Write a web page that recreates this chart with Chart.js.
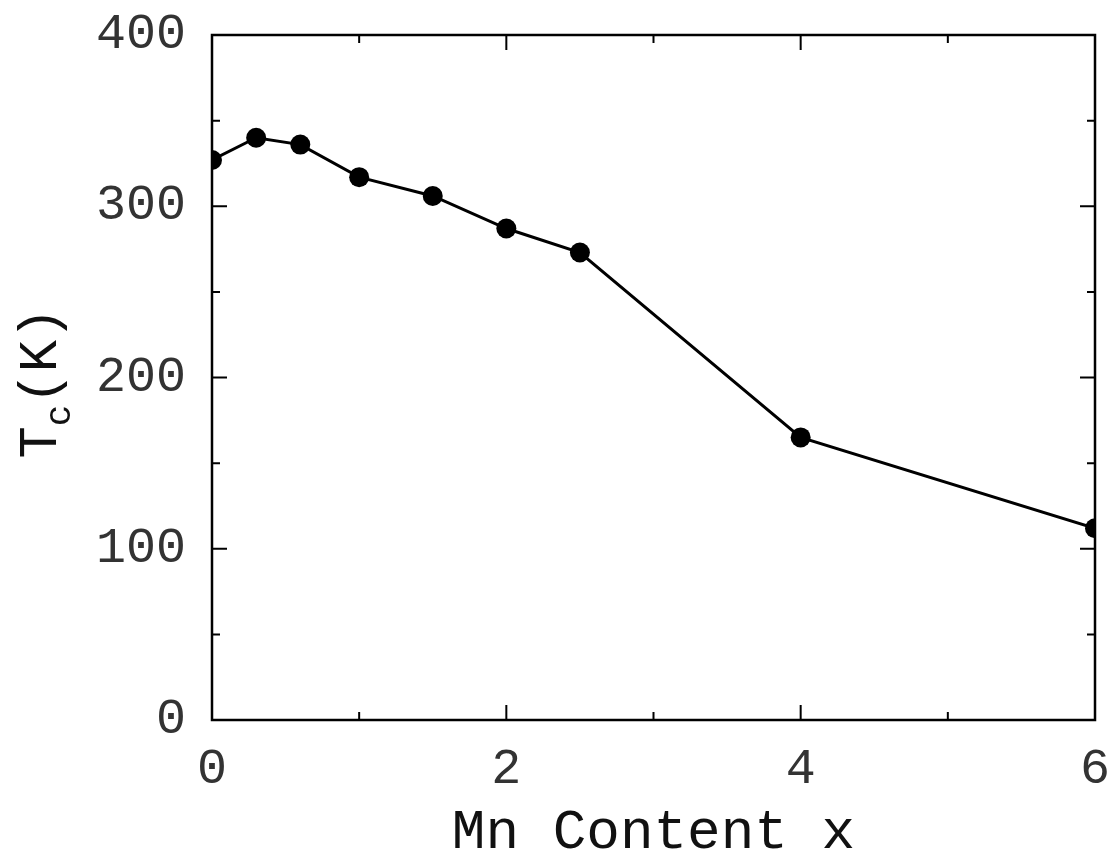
<!DOCTYPE html>
<html>
<head>
<meta charset="utf-8">
<title>Tc vs Mn content</title>
<script src="https://cdn.jsdelivr.net/npm/chart.js@4.4.1/dist/chart.umd.min.js"></script>
<style>
  html, body { margin: 0; padding: 0; background: #fff; }
  #wrap { width: 1109px; height: 861px; position: relative; }
</style>
</head>
<body>
<div id="wrap"><canvas id="chart"></canvas></div>
<script>
// data
const mnContent = [0, 0.3, 0.6, 1.0, 1.5, 2.0, 2.5, 4.0, 6.0];
const tcValues = [327, 340, 336, 317, 306, 287, 273, 165, 112];

const xMajorTicks = [0, 2, 4, 6];
const xMinorTicks = [1, 3, 5];
const yMajorTicks = [0, 100, 200, 300, 400];
const yMinorTicks = [50, 150, 250, 350];

const FONT = '"Liberation Mono", "DejaVu Sans Mono", monospace';

// frame + inward ticks + y title with subscript
const framePlugin = {
    id: 'frame',
    afterDraw(chart) {
        const { ctx, chartArea: a, scales } = chart;
        const xs = scales.x, ys = scales.y;
        ctx.save();
        ctx.strokeStyle = '#000';
        ctx.lineWidth = 2.5;
        ctx.strokeRect(a.left, a.top, a.right - a.left, a.bottom - a.top);

        ctx.lineWidth = 2;
        ctx.beginPath();
        const xTick = (v, len) => {
            const px = xs.getPixelForValue(v);
            ctx.moveTo(px, a.bottom); ctx.lineTo(px, a.bottom - len);
            ctx.moveTo(px, a.top); ctx.lineTo(px, a.top + len);
        };
        const yTick = (v, len) => {
            const py = ys.getPixelForValue(v);
            ctx.moveTo(a.left, py); ctx.lineTo(a.left + len, py);
            ctx.moveTo(a.right, py); ctx.lineTo(a.right - len, py);
        };
        xMajorTicks.forEach(v => xTick(v, 15));
        xMinorTicks.forEach(v => xTick(v, 8));
        yMajorTicks.forEach(v => yTick(v, 15));
        yMinorTicks.forEach(v => yTick(v, 8));
        ctx.stroke();

        // y axis title: T_c(K)
        ctx.translate(56, 383);
        ctx.rotate(-Math.PI / 2);
        ctx.fillStyle = '#111';
        ctx.textBaseline = 'alphabetic';
        ctx.font = '54px ' + FONT;
        const tW = ctx.measureText('T').width;
        ctx.font = '36px ' + FONT;
        const cW = ctx.measureText('c').width;
        ctx.font = '54px ' + FONT;
        const kW = ctx.measureText('(K)').width;
        let x0 = -(tW + cW + kW) / 2;
        ctx.fillText('T', x0, 0);
        ctx.font = '36px ' + FONT;
        ctx.fillText('c', x0 + tW, 14);
        ctx.font = '54px ' + FONT;
        ctx.fillText('(K)', x0 + tW + cW, 0);
        ctx.restore();
    }
};

const ctx = document.getElementById('chart').getContext('2d');
new Chart(ctx, {
    type: 'scatter',
    data: {
        datasets: [{
            data: mnContent.map((x, i) => ({ x, y: tcValues[i] })),
            showLine: true,
            borderColor: '#000',
            borderWidth: 3,
            backgroundColor: '#000',
            pointRadius: 10,
            pointHoverRadius: 10,
            pointBorderWidth: 0
        }]
    },
    options: {
        responsive: true,
        maintainAspectRatio: false,
        animation: false,
        layout: { padding: { top: 35, right: 14, left: 0, bottom: 0 } },
        plugins: { legend: { display: false }, tooltip: { enabled: false } },
        scales: {
            x: {
                type: 'linear',
                min: 0, max: 6,
                grid: { display: false, drawTicks: false },
                border: { display: false },
                afterBuildTicks: s => { s.ticks = xMajorTicks.map(v => ({ value: v })); },
                afterFit: s => { s.height = 141; s.paddingLeft = 0; s.paddingRight = 0; },
                ticks: {
                    color: '#333',
                    padding: 20,
                    font: { family: FONT, size: 50 }
                },
                title: {
                    display: true,
                    text: 'Mn Content x',
                    color: '#111',
                    padding: { top: 0, bottom: 0 },
                    font: { family: FONT, size: 56, lineHeight: 1 }
                }
            },
            y: {
                min: 0, max: 400,
                grid: { display: false, drawTicks: false },
                border: { display: false },
                afterBuildTicks: s => { s.ticks = yMajorTicks.map(v => ({ value: v })); },
                afterFit: s => { s.width = 212; s.paddingTop = 0; s.paddingBottom = 0; },
                ticks: {
                    color: '#333',
                    padding: 26,
                    font: { family: FONT, size: 50 }
                }
            }
        }
    },
    plugins: [framePlugin]
});
</script>
</body>
</html>
